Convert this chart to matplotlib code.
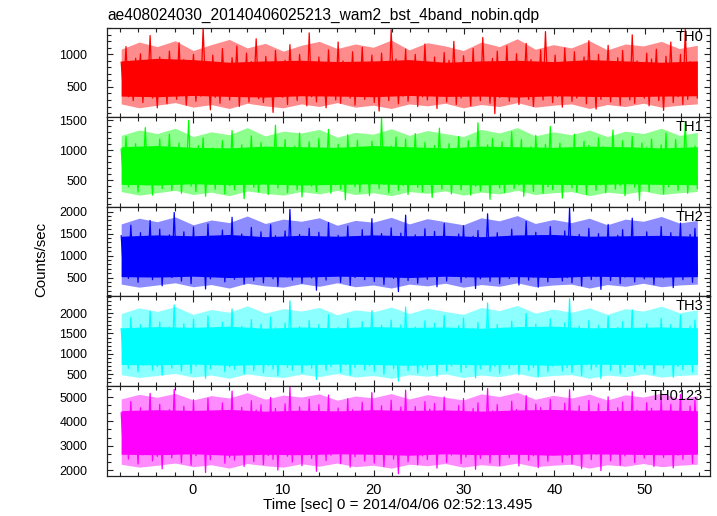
import numpy as np
import matplotlib
matplotlib.use("Agg")
import matplotlib.pyplot as plt
from matplotlib.ticker import MultipleLocator, AutoMinorLocator

plt.rcParams['font.family'] = ['Liberation Sans', 'DejaVu Sans']

# --- light curve data (counts/sec), time span in sec ---
t_start, t_stop = -7.9, 55.8

th0 = [880, 410, 1120, 350, 760, 290, 940, 520, 1010, 260, 830, 450, 1290, 330, 700, 180, 960, 380, 870, 240,
       1050, 470, 790, 310, 1180, 390, 920, 220, 680, 500, 1000, 280, 840, 360, 1410, 430, 760, 150, 990, 340,
       860, 250, 1090, 420, 730, 300, 950, 480, 1130, 200, 810, 370, 1020, 270, 890, 440, 1240, 320, 700, 260,
       970, 390, 830, 110, 1060, 460, 780, 340, 910, 230, 1150, 400, 850, 290, 1000, 510, 740, 210, 1330, 350,
       880, 270, 960, 430, 720, 180, 1070, 380, 820, 300, 1190, 250, 900, 470, 780, 330, 1040, 220, 860, 400,
       1110, 310, 750, 450, 990, 260, 870, 130, 1020, 390, 800, 290, 1380, 420, 930, 240, 840, 360, 1080, 280,
       770, 460, 1000, 200, 890, 350, 1160, 300, 740, 410, 960, 170, 850, 440, 1030, 270, 910, 380, 1200, 230,
       820, 330, 980, 480, 760, 210, 1090, 360, 880, 290, 1260, 410, 800, 250, 940, 90, 1050, 340, 780, 420,
       1130, 280, 870, 390, 1010, 230, 830, 460, 1170, 310, 920, 200, 760, 370, 1070, 300, 1350, 430, 850, 260,
       990, 350, 800, 190, 1100, 420, 880, 280, 1040, 330, 750, 470, 960, 240, 1210, 380, 830, 160, 1000, 310,
       870, 440, 1140, 270, 790, 360, 950, 220, 1060, 400, 840, 300, 1300, 250, 900, 450, 770, 330, 1020, 210,
       930, 380, 1080, 290, 810, 140, 970, 420, 1190, 260, 860, 350, 1000, 230, 1400, 310, 890, 400, 740, 330]

th1 = [1020, 480, 1230, 390, 870, 560, 1110, 300, 960, 520, 1380, 420, 900, 250, 1060, 470, 1190, 360, 850, 540,
       1270, 330, 980, 450, 1120, 280, 890, 590, 1500, 400, 940, 310, 1080, 500, 1210, 230, 870, 430, 1040, 350,
       920, 560, 1160, 270, 1010, 410, 1330, 340, 880, 480, 1090, 190, 970, 520, 1240, 380, 860, 300, 1130, 450,
       1050, 260, 930, 530, 1420, 370, 1000, 440, 1180, 290, 890, 570, 1070, 340, 1290, 220, 950, 490, 1140, 400,
       870, 310, 1200, 460, 990, 540, 1350, 280, 920, 420, 1100, 350, 1010, 170, 1260, 500, 900, 390, 1170, 300,
       1040, 470, 880, 240, 1150, 510, 980, 360, 1540, 430, 910, 290, 1070, 550, 1220, 330, 960, 410, 1190, 260,
       930, 520, 1280, 380, 1020, 300, 1130, 460, 870, 210, 1080, 490, 1370, 350, 950, 430, 1110, 270, 1000, 560,
       1230, 340, 900, 470, 1160, 250, 1050, 400, 1460, 320, 940, 530, 1090, 180, 1200, 440, 880, 370, 1140, 290,
       1010, 500, 1310, 360, 970, 420, 1180, 230, 890, 540, 1060, 310, 1250, 450, 930, 280, 1100, 390, 1400, 340,
       960, 470, 1120, 200, 1030, 510, 870, 370, 1270, 300, 990, 460, 1150, 260, 1080, 550, 920, 330, 1210, 420,
       1060, 290, 940, 480, 1340, 350, 1010, 410, 1160, 240, 900, 520, 1230, 380, 980, 160, 1120, 450, 1050, 310,
       1190, 430, 880, 530, 1090, 270, 1290, 390, 950, 460, 1180, 330, 1020, 500, 1480, 280, 910, 440, 1070, 360]

th2 = [1450, 620, 1280, 480, 1690, 700, 1350, 390, 1520, 560, 1230, 660, 1800, 450, 1390, 530, 1600, 310, 1300, 640,
       1470, 500, 1980, 580, 1260, 420, 1540, 690, 1340, 360, 1650, 540, 1280, 610, 1430, 240, 1720, 470, 1360, 570,
       1250, 680, 1580, 400, 1380, 520, 1870, 460, 1310, 630, 1490, 350, 1270, 590, 1640, 430, 1400, 700, 1540, 380,
       1320, 550, 1700, 470, 1450, 300, 1290, 650, 1560, 510, 2050, 440, 1370, 600, 1480, 370, 1260, 560, 1620, 490,
       1400, 210, 1530, 620, 1300, 440, 1750, 530, 1350, 680, 1460, 390, 1280, 570, 1670, 320, 1420, 500, 1310, 610,
       1590, 450, 1240, 550, 1840, 410, 1380, 670, 1500, 340, 1330, 590, 1630, 480, 1270, 180, 1510, 560, 1920, 430,
       1360, 640, 1470, 370, 1290, 520, 1610, 460, 1420, 710, 1550, 290, 1300, 580, 1730, 420, 1380, 540, 1260, 660,
       1490, 390, 1680, 500, 1330, 620, 1440, 250, 1570, 470, 1280, 600, 1950, 410, 1390, 530, 1520, 360, 1310, 690,
       1270, 480, 1600, 560, 1420, 330, 1360, 650, 1780, 440, 1250, 510, 1530, 280, 1450, 620, 1320, 400, 1660, 540,
       1410, 600, 1290, 420, 1560, 500, 2080, 380, 1340, 660, 1480, 310, 1380, 570, 1620, 450, 1270, 520, 1500, 230,
       1350, 590, 1710, 430, 1280, 680, 1460, 360, 1590, 510, 1320, 640, 1850, 400, 1400, 550, 1250, 470, 1540, 620,
       1430, 340, 1300, 570, 1660, 490, 1390, 610, 1520, 270, 1280, 530, 1740, 450, 1360, 660, 1480, 390, 1620, 580]

th3 = [1620, 780, 1450, 640, 1890, 850, 1530, 560, 1720, 720, 1410, 810, 2050, 600, 1580, 690, 1780, 480, 1470, 800,
       1660, 650, 2200, 740, 1430, 580, 1740, 860, 1510, 520, 1850, 700, 1450, 770, 1610, 400, 1930, 630, 1540, 730,
       1420, 840, 1780, 560, 1560, 680, 2100, 620, 1480, 790, 1680, 510, 1440, 750, 1840, 590, 1590, 870, 1730, 540,
       1500, 710, 1900, 630, 1640, 460, 1460, 810, 1760, 670, 2300, 600, 1550, 760, 1670, 530, 1430, 720, 1820, 650,
       1590, 370, 1720, 780, 1480, 600, 1960, 690, 1530, 840, 1650, 550, 1460, 730, 1870, 480, 1610, 660, 1490, 770,
       1790, 610, 1410, 710, 2060, 570, 1560, 830, 1700, 500, 1510, 750, 1830, 640, 1450, 330, 1710, 720, 2150, 590,
       1540, 800, 1660, 530, 1470, 680, 1810, 620, 1610, 870, 1750, 450, 1480, 740, 1940, 580, 1570, 700, 1440, 820,
       1690, 550, 1880, 660, 1510, 780, 1630, 410, 1770, 630, 1460, 760, 2250, 570, 1580, 690, 1720, 520, 1490, 850,
       1450, 640, 1800, 720, 1610, 490, 1550, 810, 1990, 600, 1430, 670, 1730, 440, 1640, 780, 1500, 560, 1860, 700,
       1600, 760, 1470, 580, 1760, 660, 2350, 540, 1520, 820, 1680, 470, 1570, 730, 1820, 610, 1450, 680, 1700, 390,
       1540, 750, 1920, 590, 1460, 840, 1650, 520, 1790, 670, 1500, 800, 2080, 560, 1590, 710, 1430, 630, 1740, 780,
       1620, 500, 1480, 730, 1870, 650, 1570, 770, 1720, 430, 1460, 690, 1950, 610, 1550, 820, 1680, 550, 1830, 740]

th0123 = [4350, 2700, 4080, 2450, 4820, 2900, 4210, 2250, 4560, 2620, 4030, 2810, 5150, 2380, 4400, 2560, 4700, 2050, 4150, 2760,
          4480, 2500, 5320, 2680, 4100, 2300, 4620, 2950, 4260, 2200, 4890, 2590, 4120, 2740, 4380, 1900, 4950, 2420, 4290, 2650,
          4060, 2870, 4760, 2280, 4440, 2530, 5240, 2410, 4180, 2780, 4580, 2150, 4090, 2690, 4850, 2350, 4470, 2980, 4680, 2230,
          4250, 2600, 4980, 2440, 4530, 2000, 4140, 2820, 4720, 2570, 5400, 2330, 4370, 2720, 4600, 2180, 4070, 2640, 4910, 2480,
          4420, 1950, 4690, 2770, 4200, 2390, 5080, 2610, 4310, 2920, 4550, 2260, 4110, 2700, 4930, 2120, 4480, 2550, 4230, 2800,
          4790, 2370, 4040, 2660, 5180, 2290, 4390, 2890, 4640, 2140, 4270, 2730, 4870, 2450, 4160, 1850, 4590, 2680, 5280, 2340,
          4330, 2850, 4610, 2220, 4130, 2580, 4810, 2430, 4500, 2960, 4740, 2080, 4190, 2710, 5000, 2310, 4410, 2620, 4070, 2880,
          4650, 2270, 4940, 2540, 4240, 2790, 4530, 2030, 4760, 2470, 4150, 2750, 5350, 2290, 4430, 2630, 4690, 2190, 4280, 2930,
          4100, 2510, 4830, 2700, 4490, 2170, 4320, 2860, 5060, 2400, 4060, 2590, 4710, 2100, 4570, 2800, 4260, 2360, 4900, 2670,
          4440, 2780, 4180, 2320, 4750, 2610, 5300, 2250, 4290, 2900, 4640, 2060, 4380, 2740, 4860, 2430, 4120, 2650, 4720, 1980,
          4370, 2720, 5010, 2380, 4200, 2940, 4560, 2200, 4800, 2580, 4260, 2850, 5220, 2310, 4460, 2690, 4080, 2490, 4770, 2760,
          4540, 2150, 4220, 2680, 4960, 2520, 4410, 2790, 4700, 2090, 4170, 2610, 5100, 2440, 4350, 2840, 4630, 2280, 4880, 2730]

# envelope of the dense trace: solid core (every ~4 s) and ragged fringe (every ~2 s)
th0_core_lo = [360, 350, 370, 355, 345, 365, 360, 350, 370, 355, 360, 345, 365, 355, 350, 360, 365]
th0_core_hi = [900, 940, 920, 880, 900, 910, 890, 900, 920, 880, 900, 910, 890, 920, 900, 880, 900]
th0_edge_lo = [240, 180, 220, 260, 190, 230, 170, 250, 210, 180, 240, 200, 260, 190, 220, 170, 240,
               210, 250, 180, 230, 200, 260, 190, 220, 240, 170, 230, 200, 250, 190, 220, 240]
th0_edge_hi = [1080, 1190, 1120, 1210, 1060, 1150, 1230, 1100, 1170, 1050, 1140, 1200, 1090, 1160, 1110, 1220, 1070,
               1180, 1130, 1060, 1190, 1120, 1240, 1080, 1150, 1100, 1210, 1070, 1160, 1130, 1200, 1090, 1140]

th1_core_lo = [430, 420, 440, 425, 435, 420, 430, 440, 425, 430, 420, 435, 430, 425, 440, 430, 425]
th1_core_hi = [1060, 1080, 1050, 1040, 1070, 1060, 1050, 1080, 1060, 1040, 1070, 1060, 1050, 1070, 1060, 1040, 1060]
th1_edge_lo = [310, 250, 290, 330, 260, 300, 240, 320, 280, 250, 310, 270, 330, 260, 290, 240, 310,
               280, 320, 250, 300, 270, 330, 260, 290, 310, 240, 300, 270, 320, 260, 290, 310]
th1_edge_hi = [1250, 1340, 1280, 1370, 1230, 1310, 1260, 1380, 1240, 1320, 1290, 1350, 1220, 1300, 1270, 1360, 1250,
               1330, 1280, 1230, 1350, 1290, 1380, 1240, 1310, 1260, 1340, 1230, 1320, 1280, 1370, 1250, 1300]

th2_core_lo = [520, 510, 530, 500, 520, 510, 530, 520, 500, 530, 510, 520, 500, 530, 520, 510, 520]
th2_core_hi = [1440, 1470, 1450, 1480, 1430, 1460, 1440, 1470, 1450, 1460, 1430, 1470, 1480, 1440, 1450, 1460, 1440]
th2_edge_lo = [350, 280, 330, 380, 290, 340, 260, 370, 310, 280, 360, 300, 380, 290, 330, 260, 350,
               310, 370, 280, 340, 300, 380, 290, 330, 350, 260, 340, 300, 370, 290, 330, 350]
th2_edge_hi = [1720, 1850, 1770, 1880, 1700, 1810, 1750, 1900, 1730, 1830, 1780, 1860, 1690, 1800, 1760, 1870, 1720,
               1840, 1770, 1700, 1860, 1790, 1910, 1730, 1820, 1750, 1850, 1700, 1830, 1780, 1890, 1740, 1800]

th3_core_lo = [740, 730, 750, 720, 740, 730, 750, 740, 720, 750, 730, 740, 720, 750, 740, 730, 740]
th3_core_hi = [1640, 1670, 1650, 1680, 1630, 1660, 1640, 1670, 1650, 1660, 1630, 1670, 1680, 1640, 1650, 1660, 1640]
th3_edge_lo = [490, 420, 470, 520, 430, 480, 400, 510, 450, 420, 500, 440, 520, 430, 470, 400, 490,
               450, 510, 420, 480, 440, 520, 430, 470, 490, 400, 480, 440, 510, 430, 470, 490]
th3_edge_hi = [1990, 2130, 2040, 2160, 1970, 2090, 2020, 2180, 2000, 2110, 2050, 2140, 1960, 2080, 2030, 2150, 1990,
               2120, 2040, 1970, 2140, 2060, 2190, 2000, 2100, 2020, 2130, 1970, 2110, 2050, 2170, 2010, 2080]

th0123_core_lo = [2650, 2630, 2670, 2610, 2650, 2630, 2670, 2650, 2610, 2670, 2630, 2650, 2610, 2670, 2650, 2630, 2650]
th0123_core_hi = [4440, 4480, 4450, 4490, 4420, 4460, 4430, 4480, 4450, 4470, 4420, 4470, 4490, 4440, 4450, 4470, 4440]
th0123_edge_lo = [2240, 2120, 2200, 2290, 2140, 2220, 2080, 2270, 2180, 2120, 2260, 2160, 2290, 2140, 2200, 2080, 2240,
                  2180, 2270, 2120, 2220, 2160, 2290, 2140, 2200, 2240, 2080, 2220, 2160, 2270, 2140, 2200, 2240]
th0123_edge_hi = [4920, 5110, 4990, 5150, 4880, 5060, 4960, 5180, 4910, 5080, 5000, 5130, 4870, 5040, 4970, 5140, 4920,
                  5100, 4990, 4880, 5130, 5020, 5190, 4910, 5070, 4960, 5120, 4880, 5090, 5000, 5160, 4930, 5050]

bands = ["TH0", "TH1", "TH2", "TH3", "TH0123"]
series = [th0, th1, th2, th3, th0123]
cores = [(th0_core_lo, th0_core_hi), (th1_core_lo, th1_core_hi), (th2_core_lo, th2_core_hi),
         (th3_core_lo, th3_core_hi), (th0123_core_lo, th0123_core_hi)]
edges = [(th0_edge_lo, th0_edge_hi), (th1_edge_lo, th1_edge_hi), (th2_edge_lo, th2_edge_hi),
         (th3_edge_lo, th3_edge_hi), (th0123_edge_lo, th0123_edge_hi)]
colors = ["#ff0000", "#00ff00", "#0000ff", "#00ffff", "#ff00ff"]
ylims = [(37, 1413), (55, 1555), (70, 2110), (210, 2410), (1770, 5450)]
yticks = [[500, 1000], [500, 1000, 1500], [500, 1000, 1500, 2000],
          [500, 1000, 1500, 2000], [2000, 3000, 4000, 5000]]
yminor = [5, 5, 5, 5, 3]

title = "ae408024030_20140406025213_wam2_bst_4band_nobin.qdp"
xlabel = "Time [sec] 0 = 2014/04/06 02:52:13.495"

W, H = 717, 516
fig = plt.figure(figsize=(W / 100, H / 100), dpi=100)
left, right = 106.7 / W, 710 / W
top_px, bot_px = 27.5, 475.7
h = (bot_px - top_px) / 5

axes = []
for i, (name, vals, c) in enumerate(zip(bands, series, colors)):
    y0 = 1 - (top_px + (i + 1) * h) / H
    ax = fig.add_axes([left, y0, right - left, h / H], sharex=axes[0] if axes else None)
    t = np.linspace(t_start, t_stop, len(vals))
    lo, hi = cores[i]
    elo, ehi = edges[i]
    ax.fill_between(np.linspace(t_start, t_stop, len(elo)), elo, ehi, color=c, alpha=0.45, lw=0)
    ax.fill_between(np.linspace(t_start, t_stop, len(lo)), lo, hi, color=c, lw=0)
    ax.plot(t, vals, color=c, lw=0.9)
    ax.set_ylim(*ylims[i])
    ax.set_yticks(yticks[i])
    ax.yaxis.set_minor_locator(AutoMinorLocator(yminor[i]))
    ax.xaxis.set_major_locator(MultipleLocator(10))
    ax.xaxis.set_minor_locator(MultipleLocator(2))
    ax.tick_params(which='both', direction='in', top=True, right=True, color='#222222')
    ax.tick_params(which='major', length=4.5, width=0.8)
    ax.tick_params(which='minor', length=2.8, width=0.8)
    ax.tick_params(axis='y', labelsize=9, pad=14)
    ax.tick_params(axis='x', labelsize=10.5, pad=5)
    for s in ax.spines.values():
        s.set_linewidth(0.9)
        s.set_color('#222222')
    ax.annotate(name, xy=(1, 1), xycoords='axes fraction', xytext=(-4.8, -2.0),
                textcoords='offset points', ha='right', va='top', fontsize=10.5)
    if i < 4:
        ax.tick_params(axis='x', labelbottom=False)
    axes.append(ax)

axes[0].set_xlim(-9.5, 57.2)

fig.text(107 / W, 1 - 15 / H, title, ha='left', va='center', fontsize=11.2)
fig.text(397.5 / W, 1 - 505 / H, xlabel, ha='center', va='center', fontsize=11)
fig.text(41.7 / W, 1 - 259 / H, "Counts/sec", ha='center', va='center', rotation=90, fontsize=10.8)

fig.savefig("out.png", dpi=100)
